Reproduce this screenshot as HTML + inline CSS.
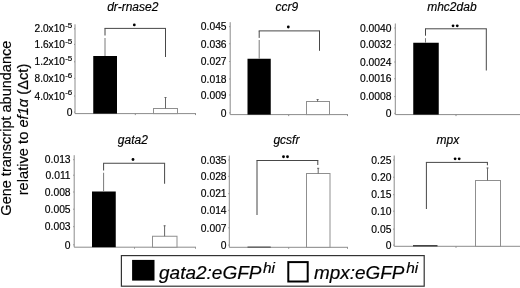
<!DOCTYPE html>
<html><head><meta charset="utf-8"><style>
html,body{margin:0;padding:0;background:#fff;}
body{width:520px;height:288px;overflow:hidden;position:relative;font-family:"Liberation Sans", sans-serif;}
svg{position:absolute;left:0;top:0;will-change:transform;}
svg text{font-family:"Liberation Sans", sans-serif;stroke:#000;stroke-width:0.18px;}
</style></head><body>
<svg width="520" height="288" viewBox="0 0 520 288">
<g transform="translate(10.7,128.2) rotate(-90)"><text x="0" y="0" font-size="14.5" text-anchor="middle">Gene transcript abundance</text></g>
<g transform="translate(28.2,129.5) rotate(-90)"><text x="0" y="0" font-size="14.7" text-anchor="middle">relative to <tspan font-style="italic">ef1</tspan><tspan font-style="italic">α</tspan> (Δct)</text></g>
<line x1="75" y1="24.3" x2="75" y2="113.6" stroke="#8c8c8c" stroke-width="1"/>
<line x1="75" y1="113.6" x2="196" y2="113.6" stroke="#8c8c8c" stroke-width="1"/>
<line x1="135.3" y1="113.6" x2="135.3" y2="115.1" stroke="#8c8c8c" stroke-width="1"/>
<line x1="195.5" y1="113.6" x2="195.5" y2="115.1" stroke="#8c8c8c" stroke-width="1"/>
<line x1="74" y1="112.1" x2="75" y2="112.1" stroke="#8c8c8c" stroke-width="1"/>
<text x="72.4" y="115.8" font-size="10.3" text-anchor="end" fill="#000" >0</text>
<line x1="74" y1="96" x2="75" y2="96" stroke="#8c8c8c" stroke-width="1"/>
<text x="64.9" y="99.6" font-size="10.1" text-anchor="end" fill="#000" >4.0x10</text>
<text x="65.2" y="95.4" font-size="8" text-anchor="start" fill="#000" >-6</text>
<line x1="74" y1="78.4" x2="75" y2="78.4" stroke="#8c8c8c" stroke-width="1"/>
<text x="64.9" y="82.0" font-size="10.1" text-anchor="end" fill="#000" >8.0x10</text>
<text x="65.2" y="77.80000000000001" font-size="8" text-anchor="start" fill="#000" >-6</text>
<line x1="74" y1="61.8" x2="75" y2="61.8" stroke="#8c8c8c" stroke-width="1"/>
<text x="64.9" y="65.39999999999999" font-size="10.1" text-anchor="end" fill="#000" >1.2x10</text>
<text x="65.2" y="61.199999999999996" font-size="8" text-anchor="start" fill="#000" >-5</text>
<line x1="74" y1="44.4" x2="75" y2="44.4" stroke="#8c8c8c" stroke-width="1"/>
<text x="64.9" y="48.0" font-size="10.1" text-anchor="end" fill="#000" >1.6x10</text>
<text x="65.2" y="43.8" font-size="8" text-anchor="start" fill="#000" >-5</text>
<line x1="74" y1="28.8" x2="75" y2="28.8" stroke="#8c8c8c" stroke-width="1"/>
<text x="64.9" y="32.4" font-size="10.1" text-anchor="end" fill="#000" >2.0x10</text>
<text x="65.2" y="28.2" font-size="8" text-anchor="start" fill="#000" >-5</text>
<text x="107.2" y="11" font-size="12" text-anchor="start" font-style="italic" fill="#000" >dr-rnase2</text>
<rect x="93.25" y="56" width="23.75" height="57.599999999999994" fill="#000"/>
<line x1="105" y1="38" x2="105" y2="56" stroke="#7a7a7a" stroke-width="1"/>
<rect x="153.5" y="108.5" width="24.0" height="5.099999999999994" fill="#fff" stroke="#8f8f8f" stroke-width="1"/>
<line x1="165.5" y1="97.2" x2="165.5" y2="108.5" stroke="#666" stroke-width="1"/>
<line x1="164.5" y1="97.5" x2="166.5" y2="97.5" stroke="#666" stroke-width="1"/>
<line x1="104.5" y1="28.4" x2="166.0" y2="28.4" stroke="#474747" stroke-width="1.0"/>
<line x1="105" y1="28.4" x2="105" y2="35.5" stroke="#474747" stroke-width="1.0"/>
<line x1="165.5" y1="28.4" x2="165.5" y2="57" stroke="#474747" stroke-width="1.0"/>
<circle cx="134.3" cy="24.9" r="1.4" fill="#000"/>
<line x1="230.2" y1="22.2" x2="230.2" y2="114.6" stroke="#8c8c8c" stroke-width="1"/>
<line x1="230.2" y1="114.6" x2="348" y2="114.6" stroke="#8c8c8c" stroke-width="1"/>
<line x1="288.7" y1="114.6" x2="288.7" y2="116.1" stroke="#8c8c8c" stroke-width="1"/>
<line x1="347.5" y1="114.6" x2="347.5" y2="116.1" stroke="#8c8c8c" stroke-width="1"/>
<line x1="229.2" y1="112.9" x2="230.2" y2="112.9" stroke="#8c8c8c" stroke-width="1"/>
<text x="226.6" y="116.60000000000001" font-size="10.3" text-anchor="end" fill="#000" >0</text>
<line x1="229.2" y1="95" x2="230.2" y2="95" stroke="#8c8c8c" stroke-width="1"/>
<text x="226.6" y="98.7" font-size="10.3" text-anchor="end" fill="#000" >0.009</text>
<line x1="229.2" y1="79" x2="230.2" y2="79" stroke="#8c8c8c" stroke-width="1"/>
<text x="226.6" y="82.7" font-size="10.3" text-anchor="end" fill="#000" >0.018</text>
<line x1="229.2" y1="61.5" x2="230.2" y2="61.5" stroke="#8c8c8c" stroke-width="1"/>
<text x="226.6" y="65.2" font-size="10.3" text-anchor="end" fill="#000" >0.027</text>
<line x1="229.2" y1="43.8" x2="230.2" y2="43.8" stroke="#8c8c8c" stroke-width="1"/>
<text x="226.6" y="47.5" font-size="10.3" text-anchor="end" fill="#000" >0.036</text>
<line x1="229.2" y1="26.7" x2="230.2" y2="26.7" stroke="#8c8c8c" stroke-width="1"/>
<text x="226.6" y="30.4" font-size="10.3" text-anchor="end" fill="#000" >0.045</text>
<text x="275.6" y="11" font-size="12" text-anchor="start" font-style="italic" fill="#000" >ccr9</text>
<rect x="247.5" y="58.75" width="23.25" height="55.849999999999994" fill="#000"/>
<line x1="259.2" y1="40" x2="259.2" y2="58.75" stroke="#7a7a7a" stroke-width="1"/>
<rect x="306.5" y="101.5" width="23.0" height="13.099999999999994" fill="#fff" stroke="#8f8f8f" stroke-width="1"/>
<line x1="317.6" y1="99.2" x2="317.6" y2="101.5" stroke="#666" stroke-width="1"/>
<line x1="316.6" y1="99.5" x2="318.6" y2="99.5" stroke="#666" stroke-width="1"/>
<line x1="258.7" y1="30.9" x2="320.0" y2="30.9" stroke="#474747" stroke-width="1.0"/>
<line x1="259.2" y1="30.9" x2="259.2" y2="37.9" stroke="#474747" stroke-width="1.0"/>
<line x1="319.5" y1="30.9" x2="319.5" y2="50.8" stroke="#474747" stroke-width="1.0"/>
<circle cx="288.3" cy="27" r="1.4" fill="#000"/>
<line x1="395.3" y1="23.5" x2="395.3" y2="114.6" stroke="#8c8c8c" stroke-width="1"/>
<line x1="395.3" y1="114.6" x2="520" y2="114.6" stroke="#8c8c8c" stroke-width="1"/>
<line x1="456" y1="114.6" x2="456" y2="116.1" stroke="#8c8c8c" stroke-width="1"/>
<line x1="394.3" y1="113.3" x2="395.3" y2="113.3" stroke="#8c8c8c" stroke-width="1"/>
<text x="391.5" y="117.0" font-size="10.3" text-anchor="end" fill="#000" >0</text>
<line x1="394.3" y1="96.6" x2="395.3" y2="96.6" stroke="#8c8c8c" stroke-width="1"/>
<text x="391.5" y="100.3" font-size="10.3" text-anchor="end" fill="#000" >0.0008</text>
<line x1="394.3" y1="78.75" x2="395.3" y2="78.75" stroke="#8c8c8c" stroke-width="1"/>
<text x="391.5" y="82.45" font-size="10.3" text-anchor="end" fill="#000" >0.0016</text>
<line x1="394.3" y1="62" x2="395.3" y2="62" stroke="#8c8c8c" stroke-width="1"/>
<text x="391.5" y="65.7" font-size="10.3" text-anchor="end" fill="#000" >0.0024</text>
<line x1="394.3" y1="44.75" x2="395.3" y2="44.75" stroke="#8c8c8c" stroke-width="1"/>
<text x="391.5" y="48.45" font-size="10.3" text-anchor="end" fill="#000" >0.0032</text>
<line x1="394.3" y1="28" x2="395.3" y2="28" stroke="#8c8c8c" stroke-width="1"/>
<text x="391.5" y="31.7" font-size="10.3" text-anchor="end" fill="#000" >0.0040</text>
<text x="427.2" y="10.8" font-size="12" text-anchor="start" font-style="italic" fill="#000" >mhc2dab</text>
<rect x="413.25" y="42.75" width="25.5" height="71.85" fill="#000"/>
<line x1="425.5" y1="38.2" x2="425.5" y2="42.75" stroke="#7a7a7a" stroke-width="1"/>
<line x1="425.0" y1="28.8" x2="486.8" y2="28.8" stroke="#474747" stroke-width="1.0"/>
<line x1="425.5" y1="28.8" x2="425.5" y2="35.7" stroke="#474747" stroke-width="1.0"/>
<line x1="486.3" y1="28.8" x2="486.3" y2="70.5" stroke="#474747" stroke-width="1.0"/>
<circle cx="453.05" cy="25.8" r="1.4" fill="#000"/>
<circle cx="457.27" cy="25.8" r="1.4" fill="#000"/>
<line x1="74.2" y1="155.2" x2="74.2" y2="247.2" stroke="#8c8c8c" stroke-width="1"/>
<line x1="74.2" y1="247.2" x2="196" y2="247.2" stroke="#8c8c8c" stroke-width="1"/>
<line x1="134.5" y1="247.2" x2="134.5" y2="248.7" stroke="#8c8c8c" stroke-width="1"/>
<line x1="195.5" y1="247.2" x2="195.5" y2="248.7" stroke="#8c8c8c" stroke-width="1"/>
<line x1="73.2" y1="244.8" x2="74.2" y2="244.8" stroke="#8c8c8c" stroke-width="1"/>
<text x="70.6" y="248.5" font-size="10.3" text-anchor="end" fill="#000" >0</text>
<line x1="73.2" y1="226.7" x2="74.2" y2="226.7" stroke="#8c8c8c" stroke-width="1"/>
<text x="70.6" y="230.39999999999998" font-size="10.3" text-anchor="end" fill="#000" >0.003</text>
<line x1="73.2" y1="209.2" x2="74.2" y2="209.2" stroke="#8c8c8c" stroke-width="1"/>
<text x="70.6" y="212.89999999999998" font-size="10.3" text-anchor="end" fill="#000" >0.005</text>
<line x1="73.2" y1="192" x2="74.2" y2="192" stroke="#8c8c8c" stroke-width="1"/>
<text x="70.6" y="195.7" font-size="10.3" text-anchor="end" fill="#000" >0.008</text>
<line x1="73.2" y1="175.2" x2="74.2" y2="175.2" stroke="#8c8c8c" stroke-width="1"/>
<text x="70.6" y="178.89999999999998" font-size="10.3" text-anchor="end" fill="#000" >0.011</text>
<line x1="73.2" y1="159.7" x2="74.2" y2="159.7" stroke="#8c8c8c" stroke-width="1"/>
<text x="70.6" y="163.39999999999998" font-size="10.3" text-anchor="end" fill="#000" >0.013</text>
<text x="117.8" y="143.7" font-size="12" text-anchor="start" font-style="italic" fill="#000" >gata2</text>
<rect x="92" y="191.5" width="23.75" height="55.69999999999999" fill="#000"/>
<line x1="103.6" y1="172.75" x2="103.6" y2="191.5" stroke="#7a7a7a" stroke-width="1"/>
<rect x="152.5" y="236.25" width="24.5" height="10.949999999999989" fill="#fff" stroke="#8f8f8f" stroke-width="1"/>
<line x1="164.6" y1="225.5" x2="164.6" y2="236.25" stroke="#666" stroke-width="1"/>
<line x1="163.6" y1="225.8" x2="165.6" y2="225.8" stroke="#666" stroke-width="1"/>
<line x1="103.1" y1="163.25" x2="165.1" y2="163.25" stroke="#474747" stroke-width="1.0"/>
<line x1="103.6" y1="163.25" x2="103.6" y2="170.5" stroke="#474747" stroke-width="1.0"/>
<line x1="164.6" y1="163.25" x2="164.6" y2="183.75" stroke="#474747" stroke-width="1.0"/>
<circle cx="133" cy="159.5" r="1.4" fill="#000"/>
<line x1="229.3" y1="155.5" x2="229.3" y2="247.3" stroke="#8c8c8c" stroke-width="1"/>
<line x1="229.3" y1="247.3" x2="348" y2="247.3" stroke="#8c8c8c" stroke-width="1"/>
<line x1="288.7" y1="247.3" x2="288.7" y2="248.8" stroke="#8c8c8c" stroke-width="1"/>
<line x1="347.5" y1="247.3" x2="347.5" y2="248.8" stroke="#8c8c8c" stroke-width="1"/>
<line x1="228.3" y1="245.1" x2="229.3" y2="245.1" stroke="#8c8c8c" stroke-width="1"/>
<text x="226.6" y="248.79999999999998" font-size="10.3" text-anchor="end" fill="#000" >0</text>
<line x1="228.3" y1="227.8" x2="229.3" y2="227.8" stroke="#8c8c8c" stroke-width="1"/>
<text x="226.6" y="231.5" font-size="10.3" text-anchor="end" fill="#000" >0.007</text>
<line x1="228.3" y1="210.3" x2="229.3" y2="210.3" stroke="#8c8c8c" stroke-width="1"/>
<text x="226.6" y="214.0" font-size="10.3" text-anchor="end" fill="#000" >0.014</text>
<line x1="228.3" y1="193.7" x2="229.3" y2="193.7" stroke="#8c8c8c" stroke-width="1"/>
<text x="226.6" y="197.39999999999998" font-size="10.3" text-anchor="end" fill="#000" >0.021</text>
<line x1="228.3" y1="176.3" x2="229.3" y2="176.3" stroke="#8c8c8c" stroke-width="1"/>
<text x="226.6" y="180.0" font-size="10.3" text-anchor="end" fill="#000" >0.028</text>
<line x1="228.3" y1="160" x2="229.3" y2="160" stroke="#8c8c8c" stroke-width="1"/>
<text x="226.6" y="163.7" font-size="10.3" text-anchor="end" fill="#000" >0.035</text>
<text x="273.4" y="143.5" font-size="12" text-anchor="start" font-style="italic" fill="#000" >gcsfr</text>
<rect x="247.5" y="246.5" width="23.25" height="1.3" fill="#5a5a5a"/>
<rect x="306.5" y="173.5" width="23.5" height="73.80000000000001" fill="#fff" stroke="#8f8f8f" stroke-width="1"/>
<line x1="318.2" y1="168" x2="318.2" y2="173.5" stroke="#666" stroke-width="1"/>
<line x1="317.2" y1="168.3" x2="319.2" y2="168.3" stroke="#666" stroke-width="1"/>
<line x1="256.5" y1="160.5" x2="318.3" y2="160.5" stroke="#474747" stroke-width="1.0"/>
<line x1="257" y1="160.5" x2="257" y2="215" stroke="#474747" stroke-width="1.0"/>
<line x1="317.8" y1="160.5" x2="317.8" y2="165" stroke="#474747" stroke-width="1.0"/>
<circle cx="283.5" cy="156.75" r="1.4" fill="#000"/>
<circle cx="287.5" cy="156.75" r="1.4" fill="#000"/>
<line x1="394.2" y1="155.5" x2="394.2" y2="246.3" stroke="#8c8c8c" stroke-width="1"/>
<line x1="394.2" y1="246.3" x2="520" y2="246.3" stroke="#8c8c8c" stroke-width="1"/>
<line x1="456" y1="246.3" x2="456" y2="247.8" stroke="#8c8c8c" stroke-width="1"/>
<line x1="393.2" y1="245.1" x2="394.2" y2="245.1" stroke="#8c8c8c" stroke-width="1"/>
<text x="391.4" y="248.79999999999998" font-size="10.3" text-anchor="end" fill="#000" >0</text>
<line x1="393.2" y1="229.1" x2="394.2" y2="229.1" stroke="#8c8c8c" stroke-width="1"/>
<text x="391.4" y="232.79999999999998" font-size="10.3" text-anchor="end" fill="#000" >0.05</text>
<line x1="393.2" y1="211.2" x2="394.2" y2="211.2" stroke="#8c8c8c" stroke-width="1"/>
<text x="391.4" y="214.89999999999998" font-size="10.3" text-anchor="end" fill="#000" >0.10</text>
<line x1="393.2" y1="194.7" x2="394.2" y2="194.7" stroke="#8c8c8c" stroke-width="1"/>
<text x="391.4" y="198.39999999999998" font-size="10.3" text-anchor="end" fill="#000" >0.15</text>
<line x1="393.2" y1="177.2" x2="394.2" y2="177.2" stroke="#8c8c8c" stroke-width="1"/>
<text x="391.4" y="180.89999999999998" font-size="10.3" text-anchor="end" fill="#000" >0.20</text>
<line x1="393.2" y1="160" x2="394.2" y2="160" stroke="#8c8c8c" stroke-width="1"/>
<text x="391.4" y="163.7" font-size="10.3" text-anchor="end" fill="#000" >0.25</text>
<text x="436.5" y="143.5" font-size="12" text-anchor="start" font-style="italic" fill="#000" >mpx</text>
<rect x="413" y="245.3" width="24.5" height="1.0" fill="#000"/>
<rect x="475.5" y="180.5" width="25.0" height="65.80000000000001" fill="#fff" stroke="#8f8f8f" stroke-width="1"/>
<line x1="487.5" y1="167.7" x2="487.5" y2="180.5" stroke="#666" stroke-width="1"/>
<line x1="486.5" y1="168.0" x2="488.5" y2="168.0" stroke="#666" stroke-width="1"/>
<line x1="425.9" y1="162.4" x2="487.9" y2="162.4" stroke="#474747" stroke-width="1.0"/>
<line x1="426.4" y1="162.4" x2="426.4" y2="209" stroke="#474747" stroke-width="1.0"/>
<line x1="487.4" y1="162.4" x2="487.4" y2="165.3" stroke="#474747" stroke-width="1.0"/>
<circle cx="455.1" cy="158.8" r="1.4" fill="#000"/>
<circle cx="459.2" cy="158.8" r="1.4" fill="#000"/>
<rect x="121.4" y="255.6" width="302.8" height="30.6" fill="none" stroke="#333" stroke-width="1.2"/>
<rect x="132.1" y="259.9" width="22.4" height="20.7" fill="#000"/>
<text x="159" y="278.6" font-size="18.5" font-style="italic" textLength="102.5" lengthAdjust="spacingAndGlyphs">gata2:eGFP</text>
<text x="263" y="272.7" font-size="14" font-style="italic" textLength="12" lengthAdjust="spacingAndGlyphs">hi</text>
<rect x="288.3" y="262.1" width="19.4" height="19.4" fill="#fff" stroke="#000" stroke-width="2"/>
<text x="314" y="278.6" font-size="18.5" font-style="italic" textLength="90.3" lengthAdjust="spacingAndGlyphs">mpx:eGFP</text>
<text x="406.2" y="273.2" font-size="14" font-style="italic" textLength="12" lengthAdjust="spacingAndGlyphs">hi</text>
</svg>
</body></html>
